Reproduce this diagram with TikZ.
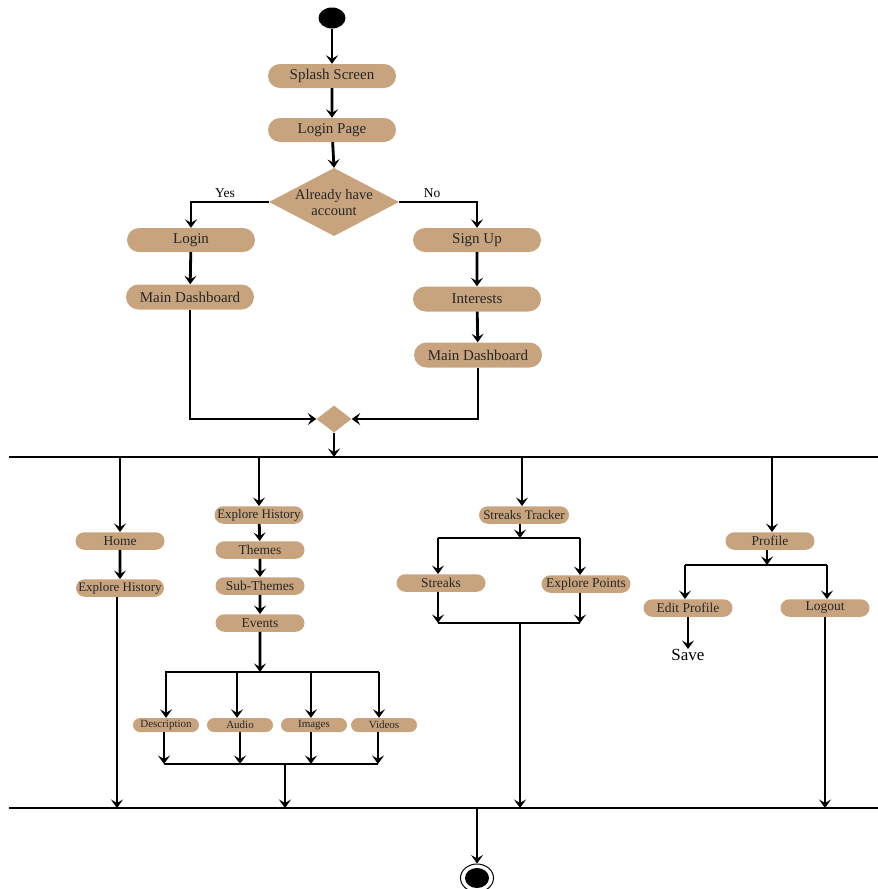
\documentclass[tikz,border=0pt]{standalone}
\usepackage{fontspec}
\setmainfont{Liberation Serif}
\usetikzlibrary{shapes.geometric,shapes.misc,arrows.meta}
\definecolor{tan}{RGB}{200,164,126}
\begin{document}
\begin{tikzpicture}[x=1pt,y=-1pt,
  act/.style={rounded rectangle, fill=tan, draw=none, inner sep=0pt, text=black!85},
  big/.style={act, minimum width=128pt, minimum height=24pt, font=\fontsize{15}{17}\selectfont},
  mid/.style={act, minimum width=89pt, minimum height=17.5pt, font=\fontsize{13.5}{15}\selectfont},
  sml/.style={act, minimum width=66pt, minimum height=14pt, font=\fontsize{11}{12}\selectfont},
  arr/.style={line width=2.8pt, -{Stealth[length=8.5pt,width=12pt,inset=3.5pt]}},
  ln/.style={line width=2.8pt},
  bar/.style={line width=2.4pt},
  lbl/.style={font=\fontsize{13.5}{15}\selectfont, inner sep=0pt}
]
\useasboundingbox (0,0) rectangle (878,889);

% start
\node[ellipse, fill=black, minimum width=27pt, minimum height=21pt, inner sep=0pt] (start) at (332,18) {};
\node[big] (splash) at (332,76) {Splash Screen};
\node[big] (lpage) at (332,130) {Login Page};
\node[diamond, fill=tan, minimum width=130pt, minimum height=68pt, inner sep=0pt] (dec) at (334,202) {};
\node[align=center, font=\fontsize{14.5}{16}\selectfont, inner sep=0pt, text=black!85] (dect) at (334,203) {Already have\\account};
\node[lbl] (yes) at (225,193) {Yes};
\node[lbl] (no) at (432,193) {No};
\node[big] (login) at (191,240) {Login};
\node[big] (signup) at (477,240) {Sign Up};
\node[big, minimum height=25pt] (md1) at (190,297) {Main Dashboard};
\node[big, minimum height=25pt] (int) at (477,299) {Interests};
\node[big, minimum height=25pt] (md2) at (478,355) {Main Dashboard};
\node[diamond, fill=tan, minimum width=35pt, minimum height=27pt, inner sep=0pt] (merge) at (334,419) {};

\draw[arr] (start) -- (splash);
\draw[arr] (splash) -- (lpage);
\draw[arr] (lpage) -- (dec.north);
\draw[arr] (dec.west) -| (login.north);
\draw[arr] (dec.east) -| (signup.north);
\draw[arr] (login) -- (md1);
\draw[arr] (signup) -- (int);
\draw[arr] (int) -- (md2);
\draw[arr] (md1.south) |- (merge.west);
\draw[arr] (md2.south) |- (merge.east);

% bars
\coordinate (tbL) at (9,457);
\coordinate (tbR) at (878,457);
\coordinate (bbL) at (9,808);
\coordinate (bbR) at (878,808);
\draw[bar] (tbL) -- (tbR);
\draw[bar] (bbL) -- (bbR);
\coordinate (mtop) at (334,457);
\draw[arr] (merge.south) -- (mtop);

% lane 1
\coordinate (l1) at (120,457);
\node[mid] (home) at (120,541) {Home};
\node[mid, font=\fontsize{13}{15}\selectfont, minimum width=88pt] (eh1) at (120,588) {Explore History};
\coordinate (l1b) at (117,808);
\draw[arr] (l1) -- (home.north);
\draw[arr] (home) -- (eh1);
\draw[arr] (eh1.south -| l1b) -- (l1b);

% lane 2
\coordinate (l2) at (259,457);
\node[mid, font=\fontsize{13}{15}\selectfont] (eh2) at (259,515) {Explore History};
\node[mid] (themes) at (260,550) {Themes};
\node[mid] (sub) at (260,586) {Sub-Themes};
\node[mid] (events) at (260,623) {Events};
\draw[arr] (l2) -- (eh2.north);
\draw[arr] (eh2) -- (themes);
\draw[arr] (themes) -- (sub);
\draw[arr] (sub) -- (events);
\coordinate (evb) at (260,672);
\draw[arr] (events) -- (evb);
\node[sml] (desc) at (166,725) {Description};
\node[sml] (audio) at (240,725) {Audio};
\node[sml] (images) at (314,725) {Images};
\node[sml] (videos) at (384,725) {Videos};
\coordinate (bL) at (165,672);
\coordinate (bR) at (379,672);
\draw[ln] (bL) -- (bR);
\coordinate (d1) at (166,672);
\coordinate (d2) at (237,672);
\coordinate (d3) at (311,672);
\coordinate (d4) at (379,672);
\draw[arr] (d1) -- (desc.north -| d1);
\draw[arr] (d2) -- (audio.north -| d2);
\draw[arr] (d3) -- (images.north -| d3);
\draw[arr] (d4) -- (videos.north -| d4);
\coordinate (j1) at (164,764);
\coordinate (j2) at (240,764);
\coordinate (j3) at (311,764);
\coordinate (j4) at (378,764);
\draw[ln] (j1) -- (j4);
\draw[arr] (desc.south -| j1) -- (j1);
\draw[arr] (audio.south -| j2) -- (j2);
\draw[arr] (images.south -| j3) -- (j3);
\draw[arr] (videos.south -| j4) -- (j4);
\coordinate (jm) at (285,764);
\coordinate (jmb) at (285,808);
\draw[arr] (jm) -- (jmb);

% lane 3
\coordinate (l3) at (522,457);
\node[mid, font=\fontsize{13}{15}\selectfont, minimum width=90pt] (track) at (524,515) {Streaks Tracker};
\draw[arr] (l3) -- (track.north -| l3);
\coordinate (tb) at (520,538);
\draw[arr] (track.south -| tb) -- (tb);
\coordinate (sL) at (438,538);
\coordinate (sR) at (580,538);
\draw[ln] (sL) -- (sR);
\node[mid] (streaks) at (441,583) {Streaks};
\node[mid] (expts) at (586,584) {Explore Points};
\draw[arr] (sL) -- (streaks.north -| sL);
\draw[arr] (sR) -- (expts.north -| sR);
\coordinate (sjL) at (438,623);
\coordinate (sjR) at (580,623);
\draw[ln] (sjL) -- (sjR);
\draw[arr] (streaks.south -| sjL) -- (sjL);
\draw[arr] (expts.south -| sjR) -- (sjR);
\coordinate (sjm) at (520,623);
\coordinate (sjb) at (520,808);
\draw[arr] (sjm) -- (sjb);

% lane 4
\coordinate (l4) at (772,457);
\node[mid] (profile) at (770,541) {Profile};
\draw[arr] (l4) -- (profile.north -| l4);
\coordinate (pb) at (767,565);
\draw[arr] (profile.south -| pb) -- (pb);
\coordinate (pL) at (685,565);
\coordinate (pR) at (827,565);
\draw[ln] (pL) -- (pR);
\node[mid] (edit) at (688,608) {Edit Profile};
\node[mid] (logout) at (825,608) {Logout};
\draw[arr] (pL) -- (edit.north -| pL);
\draw[arr] (pR) -- (logout.north -| pR);
\node[font=\fontsize{17}{19}\selectfont, inner sep=0pt, anchor=north] (save) at (688,649) {Save};
\draw[arr] (edit.south -| save.north) -- (save.north);
\coordinate (lob) at (825,808);
\draw[arr] (logout.south) -- (lob);

% end
\coordinate (eb) at (477,808);
\node[ellipse, draw=black, line width=1pt, fill=white, minimum width=33pt, minimum height=28pt, inner sep=0pt] (endn) at (477,878) {};
\fill[black] (endn.center) ellipse [x radius=12pt, y radius=10pt];
\draw[arr] (eb) -- (endn.north);
\end{tikzpicture}
\end{document}
